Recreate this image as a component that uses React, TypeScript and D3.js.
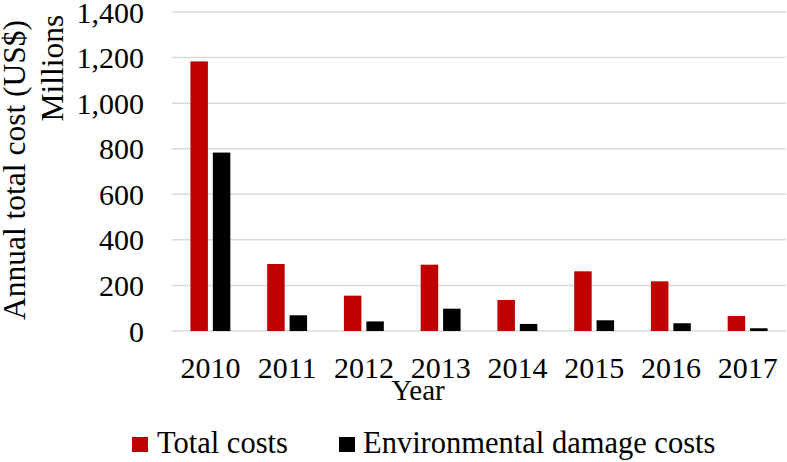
import * as d3 from "d3";

const years = ["2010", "2011", "2012", "2013", "2014", "2015", "2016", "2017"];
const seriesNames = ["Total costs", "Environmental damage costs"];
const totalCosts = [1183, 294, 155, 291, 136, 262, 218, 66];
const envDamageCosts = [783, 69, 42, 98, 31, 47, 34, 12];
const yTicks = [0, 200, 400, 600, 800, 1000, 1200, 1400];
const colors = ["#C00000", "#000000"];

const width = 787;
const height = 462;
const left = 172;
const right = 786;
const top = 12;
const bottom = 331;
const font = "'Liberation Serif', 'Times New Roman', serif";

export default function App() {
  const x0 = d3
    .scaleBand()
    .domain(years)
    .range([left, right])
    .paddingInner(0.48)
    .paddingOuter(0.24);

  const x1 = d3
    .scaleBand()
    .domain(seriesNames)
    .range([0, x0.bandwidth()])
    .paddingInner(0.22);

  const y = d3.scaleLinear().domain([0, 1400]).range([bottom, top]);

  const series = [totalCosts, envDamageCosts];

  return (
    <svg
      width={width}
      height={height}
      viewBox={`0 0 ${width} ${height}`}
      style={{ position: "absolute", left: 0, top: 0, background: "#fff" }}
      fontFamily={font}
    >
      {/* gridlines */}
      {yTicks.map((t) => (
        <line
          key={t}
          x1={left}
          x2={right}
          y1={y(t)}
          y2={y(t)}
          stroke="#d9d9d9"
          strokeWidth={1.5}
        />
      ))}

      {/* y tick labels */}
      {yTicks.map((t) => (
        <text
          key={t}
          x={144}
          y={y(t) + 10.5}
          textAnchor="end"
          fontSize={30}
          fill="#000"
        >
          {d3.format(",")(t)}
        </text>
      ))}

      {/* bars */}
      {years.map((yr, i) => (
        <g key={yr} transform={`translate(${x0(yr)},0)`}>
          {seriesNames.map((s, j) => (
            <rect
              key={s}
              x={x1(s)}
              y={y(series[j][i])}
              width={x1.bandwidth()}
              height={y(0) - y(series[j][i])}
              fill={colors[j]}
            />
          ))}
        </g>
      ))}

      {/* x tick labels */}
      {years.map((yr) => (
        <text
          key={yr}
          x={(x0(yr) || 0) + x0.bandwidth() / 2}
          y={378}
          textAnchor="middle"
          fontSize={30}
          fill="#000"
        >
          {yr}
        </text>
      ))}

      {/* axis titles */}
      <text x={418} y={400} textAnchor="middle" fontSize={29} fill="#000">
        Year
      </text>
      <text
        transform="translate(25,170) rotate(-90)"
        textAnchor="middle"
        fontSize={31.5}
        fill="#000"
      >
        Annual total cost (US$)
      </text>
      <text
        transform="translate(63,68) rotate(-90)"
        textAnchor="middle"
        fontSize={31.5}
        fill="#000"
      >
        Millions
      </text>

      {/* legend */}
      <rect x={132} y={437} width={16} height={15} fill={colors[0]} />
      <text x={157} y={452.5} fontSize={30.5} fill="#000">
        {seriesNames[0]}
      </text>
      <rect x={339} y={437} width={16} height={15} fill={colors[1]} />
      <text x={363} y={452.5} fontSize={30.5} fill="#000">
        {seriesNames[1]}
      </text>
    </svg>
  );
}
